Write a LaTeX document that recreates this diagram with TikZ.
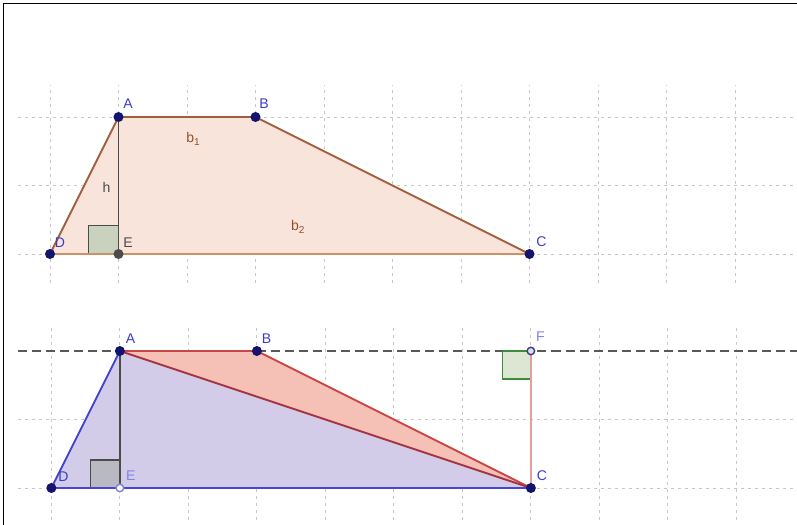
\documentclass[tikz,border=0pt]{standalone}
\usepackage{fontspec}
\setmainfont{Liberation Sans}
\usetikzlibrary{positioning}

\definecolor{ptblue}{RGB}{20,20,110}
\definecolor{lblblue}{RGB}{60,60,200}
\definecolor{lblpale}{RGB}{130,130,230}
\definecolor{trapfill}{RGB}{248,228,218}
\definecolor{trapedge}{RGB}{160,95,60}
\definecolor{trapbase}{RGB}{205,145,100}
\definecolor{segtext}{RGB}{150,80,40}
\definecolor{hgray}{RGB}{75,75,75}
\definecolor{rafill}{RGB}{200,210,190}
\definecolor{lavfill}{RGB}{210,204,232}
\definecolor{bluedge}{RGB}{70,70,210}
\definecolor{redfill}{RGB}{245,192,182}
\definecolor{redge}{RGB}{200,70,70}
\definecolor{diagred}{RGB}{165,50,65}
\definecolor{pinkedge}{RGB}{225,160,160}
\definecolor{sqgreen}{RGB}{60,140,60}
\definecolor{sqfill}{RGB}{220,230,210}
\definecolor{efill}{RGB}{185,185,195}

\newcommand{\subidx}[1]{{\fontsize{10}{12}\selectfont\raisebox{-3pt}{#1}}}

\tikzset{
  gridline/.style={black!22,line width=0.9pt,dash pattern=on 3pt off 4pt},
  ptnode/.style={circle,fill=ptblue,inner sep=0pt,minimum size=10pt},
  hollowpt/.style={circle,draw=#1,fill=white,line width=1.4pt,inner sep=0pt,minimum size=7.5pt},
  lbl/.style={text=lblblue,font=\fontsize{14}{16}\selectfont,inner sep=0pt},
  seglbl/.style={font=\fontsize{14}{16}\selectfont,inner sep=0pt},
  edge/.style={line width=1.9pt}
}

\begin{document}
\begin{tikzpicture}[x=2.4cm,y=2.4cm]
\useasboundingbox (-0.730,-3.956) rectangle (10.905,3.708);

% Frame on the top and left sides.
\draw[line width=1pt] (-0.672,-3.956) -- (-0.672,3.65) -- (10.905,3.65);

% Upper trapezoid, on its grid.
\foreach \x in {0,...,10}
  \draw[gridline] (\x,-0.42) -- (\x,2.47);
\foreach \y in {0,1,2}
  \draw[gridline] (-0.47,\y) -- (10.905,\y);

\coordinate (D) at (0,0);
\coordinate (A) at (1,2);
\coordinate (B) at (3,2);
\coordinate (C) at (7,0);
\coordinate (E) at (1,0);

\fill[trapfill] (D) -- (A) -- (B) -- (C) -- cycle;
\filldraw[fill=rafill,draw=hgray,line width=1.2pt] (E) rectangle ++(-0.44,0.42);

\draw[edge,trapbase] (D) -- node[seglbl,text=segtext,above=19pt,xshift=8pt] (lb2) {b\subidx{2}} (C);
\draw[edge,trapedge] (D) -- (A);
\draw[edge,trapedge] (A)
  -- node[seglbl,text=segtext,below=14pt,xshift=6pt] (lb1) {b\subidx{1}} (B);
\draw[edge,trapedge] (B) -- (C);
\draw[edge,hgray] (A)
  -- node[seglbl,text=hgray,left=7pt,yshift=-2pt] (lh) {h} (E);

\node[ptnode] (pD) at (D) {};
\node[ptnode] (pA) at (A) {};
\node[ptnode] (pB) at (B) {};
\node[ptnode] (pC) at (C) {};
\node[ptnode,fill=hgray] (pE) at (E) {};

\node[lbl,above right=5pt and 1pt of pA] (lA) {A};
\node[lbl,above right=5pt and 0pt of pB] (lB) {B};
\node[lbl,above right=3pt and 3pt of pC] (lC) {C};
\node[lbl,above right=3pt and 1pt of pD] (lD) {D};
\node[lbl,text=hgray,above right=3pt and 1pt of pE] (lE) {E};

% Lower copy: split into two triangles, with the height at C.
\begin{scope}[shift={(0.02,-3.416)}]
\foreach \x in {0,...,10}
  \draw[gridline] (\x,-0.47) -- (\x,2.38);
\foreach \y in {0,1}
  \draw[gridline] (-0.49,\y) -- (10.885,\y);

\coordinate (D2) at (0,0);
\coordinate (A2) at (1,2);
\coordinate (B2) at (3,2);
\coordinate (C2) at (7,0);
\coordinate (E2) at (1,0);
\coordinate (F2) at (7,2);
\coordinate (Lend) at (-0.49,2);
\coordinate (Rend) at (10.885,2);

\draw[black!65,line width=1.1pt,dash pattern=on 9pt off 5pt] (Lend) -- (Rend);

\fill[lavfill] (D2) -- (A2) -- (C2) -- cycle;
\fill[redfill] (A2) -- (B2) -- (C2) -- cycle;
\filldraw[fill=efill,draw=hgray,line width=1.2pt] (E2) rectangle ++(-0.43,0.41);
\filldraw[fill=sqfill,draw=sqgreen,line width=1.2pt] (F2) rectangle ++(-0.41,-0.41);

\draw[edge,bluedge] (D2) -- (A2);
\draw[edge,bluedge] (D2) -- (C2);
\draw[edge,redge] (A2) -- (B2);
\draw[edge,redge] (B2) -- (C2);
\draw[edge,diagred] (A2) -- (C2);
\draw[edge,pinkedge] (F2) -- (C2);
\draw[edge,hgray] (A2) -- (E2);

\node[ptnode] (pD2) at (D2) {};
\node[ptnode] (pA2) at (A2) {};
\node[ptnode] (pB2) at (B2) {};
\node[ptnode] (pC2) at (C2) {};
\node[hollowpt=lblpale!80!gray] (pE2) at (E2) {};
\node[hollowpt=ptblue!60!gray,fill=lblpale!30] (pF2) at (F2) {};

\node[lbl,above right=4pt and 2pt of pA2] (lA2) {A};
\node[lbl,above right=4pt and 1pt of pB2] (lB2) {B};
\node[lbl,above right=3pt and 2pt of pC2] (lC2) {C};
\node[lbl,above right=3pt and 3pt of pD2] (lD2) {D};
\node[lbl,text=lblpale,above right=4pt and 3pt of pE2] (lE2) {E};
\node[lbl,text=lblpale,above right=6pt and 2pt of pF2] (lF2) {F};
\end{scope}

\end{tikzpicture}
\end{document}
